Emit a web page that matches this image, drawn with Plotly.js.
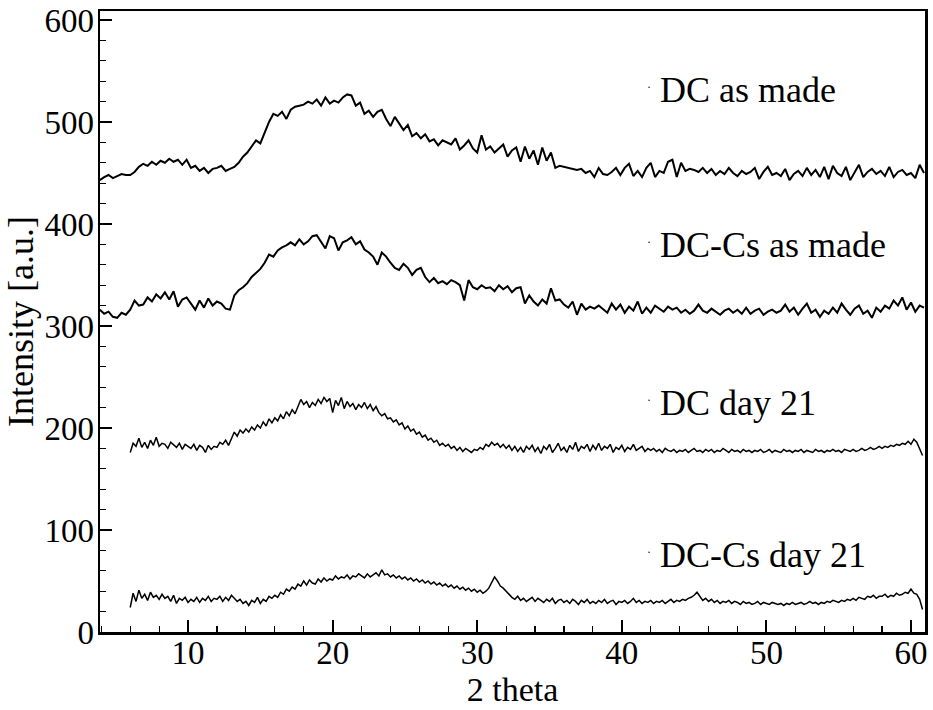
<!DOCTYPE html>
<html>
<head>
<meta charset="utf-8">
<script src="https://cdn.plot.ly/plotly-3.0.1.min.js"></script>
<style>html,body{margin:0;padding:0;background:#fff;}#chart{width:933px;height:710px;}</style>
</head>
<body>
<div id="chart"></div>
<script>
// 2-theta scan grids (start, step) for each pattern
const scanAsMade = {start: 3.9, step: 0.3};
const scanDay21 = {start: 6.0, step: 0.2};

const labels = ["DC as made", "DC-Cs as made", "DC day 21", "DC-Cs day 21"];
const labelY = [531, 379, 224.5, 75.5];
const labelX = 42.5;

const dcAsMade = [
443,446,448,445,447,449,448,448,451,456,
459,457,461,458,462,460,464,461,463,458,
463,455,457,452,455,450,454,455,457,452,
454,456,460,466,470,476,482,479,490,500,
508,506,510,503,512,515,516,517,520,518,
522,516,524,518,521,519,524,527,526,516,
519,508,511,505,510,512,503,496,505,498,
492,497,486,489,484,488,481,483,477,482,
480,478,484,473,477,482,474,470,487,473,
476,470,474,478,466,472,475,461,476,464,
472,458,475,462,470,455,457,456,455,454,
453,454,450,452,446,455,449,448,451,455,
448,455,459,447,452,446,455,460,446,452,
450,461,463,446,460,452,454,453,451,455,
450,454,448,452,449,455,450,447,452,449,
451,455,444,451,456,448,450,447,454,443,
449,452,447,455,448,453,446,456,444,457,
450,447,456,443,451,458,446,451,454,449,
452,447,456,446,451,453,448,450,445,458,
450];

const dcCsAsMade = [
316,312,314,309,308,313,311,316,325,320,
321,328,324,331,327,333,326,334,319,326,
328,322,316,325,318,327,320,324,322,317,
316,330,335,338,342,348,352,356,362,370,
368,374,377,379,382,379,385,380,383,388,
389,383,376,388,386,374,382,384,387,380,
383,375,372,368,360,372,368,362,357,355,
361,357,350,355,357,348,343,347,342,344,
341,345,343,340,325,345,338,336,340,337,
338,334,340,336,339,333,337,338,322,330,
324,320,326,322,337,325,326,321,318,324,
311,322,316,319,317,320,316,313,322,316,
321,313,319,315,324,312,318,313,320,317,
314,319,316,318,313,316,312,315,321,315,
313,317,314,311,315,317,313,316,312,318,
312,315,317,311,314,316,313,315,321,314,
318,311,317,322,313,316,309,315,312,318,
313,322,316,311,317,320,312,315,308,318,
314,320,317,325,320,328,316,323,314,320,
318];

const dcDay21 = [
176,185,182,190,181,186,180,188,183,191,
182,185,184,180,186,183,181,185,179,184,
182,180,184,178,183,181,176,183,179,182,
181,186,184,188,183,190,196,192,198,195,
199,196,201,198,203,200,206,202,209,205,
210,207,213,209,216,212,218,214,221,228,
223,226,220,225,222,228,224,230,226,229,
215,227,222,230,219,226,221,224,218,223,
220,225,219,223,217,221,215,212,214,209,
210,206,208,203,205,199,202,197,199,194,
196,191,193,188,190,186,188,183,185,182,
184,180,182,178,181,177,180,178,176,179,
178,181,179,184,182,186,183,185,181,184,
180,183,178,182,177,181,176,182,179,183,
177,181,175,182,179,184,176,180,185,178,
181,176,183,179,186,177,182,180,184,177,
183,179,185,178,182,180,184,176,181,179,
183,177,181,179,184,178,180,182,177,180,
178,180,177,179,176,180,178,177,179,176,
178,177,179,176,178,180,177,178,176,179,
177,179,176,178,177,180,178,176,179,177,
178,176,179,177,178,176,178,177,179,176,
177,179,176,178,177,176,179,177,178,176,
178,177,179,176,178,177,176,179,177,178,
176,178,177,179,177,178,176,179,178,177,
179,177,178,180,178,179,181,179,180,182,
180,182,181,183,182,184,183,185,184,187,
184,189,186,180,173];

const dcCsDay21 = [
24,38,30,41,33,37,31,39,34,36,
32,37,33,35,30,36,28,33,31,34,
29,32,30,34,29,33,31,35,30,33,
32,35,30,34,31,36,33,30,32,28,
30,26,31,29,34,28,32,30,35,33,
36,34,39,37,42,40,44,42,47,45,
50,46,51,48,47,52,49,53,50,52,
51,55,52,54,53,56,52,55,54,57,
55,53,57,54,56,58,55,61,56,57,
54,56,53,55,52,54,51,53,50,52,
49,51,48,50,47,49,46,48,45,47,
44,46,43,45,42,44,41,43,40,42,
39,41,38,40,43,48,54,50,45,43,
40,36,34,32,35,31,33,30,32,34,
30,33,31,29,32,30,33,28,31,32,
29,31,28,32,30,27,31,29,32,28,
30,28,31,29,32,28,30,31,27,30,
29,31,28,30,33,29,31,28,30,29,
31,28,30,29,31,28,30,32,29,31,
30,32,31,33,34,36,39,35,31,33,
30,32,29,31,28,30,29,31,28,30,
29,27,30,28,29,27,28,30,27,29,
28,27,29,28,27,28,26,28,27,29,
27,28,29,27,28,30,28,29,27,29,
28,30,29,31,30,29,31,30,32,31,
33,31,34,33,32,35,34,36,33,35,
35,37,34,36,35,38,36,37,39,38,
42,38,37,32,22];

function grid(scan, n) {
  const xs = [];
  for (let i = 0; i < n; i++) xs.push(+(scan.start + i * scan.step).toFixed(2));
  return xs;
}

const FONT = "'Liberation Serif', 'Times New Roman', Times, serif";

const traces = [
  {x: grid(scanAsMade, dcAsMade.length), y: dcAsMade, name: labels[0], line: {color: "#000", width: 2}},
  {x: grid(scanAsMade, dcCsAsMade.length), y: dcCsAsMade, name: labels[1], line: {color: "#000", width: 2}},
  {x: grid(scanDay21, dcDay21.length), y: dcDay21, name: labels[2], line: {color: "#000", width: 1.5}},
  {x: grid(scanDay21, dcCsDay21.length), y: dcCsDay21, name: labels[3], line: {color: "#000", width: 1.5}}
].map(t => Object.assign({type: "scatter", mode: "lines", hoverinfo: "skip"}, t));

const annotations = [];
labels.forEach((txt, i) => {
  annotations.push({x: labelX, y: labelY[i], xref: "x", yref: "y", text: txt, showarrow: false,
    xanchor: "left", yanchor: "middle", font: {family: FONT, size: 36, color: "#000"}});
  annotations.push({x: labelX - 0.65, y: labelY[i] + 3, xref: "x", yref: "y", text: "·", showarrow: false,
    xanchor: "center", yanchor: "middle", font: {family: FONT, size: 12, color: "#000"}});
});

const layout = {
  width: 933, height: 710,
  margin: {l: 100, r: 8, t: 11, b: 78, pad: 0},
  paper_bgcolor: "#fff", plot_bgcolor: "#fff",
  showlegend: false,
  font: {family: FONT, color: "#000", size: 32},
  xaxis: {
    range: [3.91, 60.97], showgrid: false, zeroline: false,
    showline: true, linecolor: "#000", linewidth: 2.5, mirror: true,
    ticks: "inside", ticklen: 12, tickwidth: 2, tickcolor: "#000",
    tick0: 0, dtick: 10, ticklabelstandoff: -10,
    minor: {ticks: "inside", ticklen: 6, tickwidth: 1.2, tickcolor: "#000", dtick: 2, tick0: 0, showgrid: false},
    tickfont: {family: FONT, size: 33, color: "#000"},
    title: {text: "2 theta", font: {family: FONT, size: 34, color: "#000"}, standoff: 2},
    automargin: false
  },
  yaxis: {
    range: [0, 608.8], showgrid: false, zeroline: false,
    showline: true, linecolor: "#000", linewidth: 2.5, mirror: true,
    ticks: "inside", ticklen: 12, tickwidth: 2, tickcolor: "#000",
    tick0: 0, dtick: 100, ticklabelstandoff: -3,
    minor: {ticks: "inside", ticklen: 6, tickwidth: 1.2, tickcolor: "#000", dtick: 20, tick0: 0, showgrid: false},
    tickfont: {family: FONT, size: 33, color: "#000"},
    title: {text: "Intensity [a.u.]", font: {family: FONT, size: 36, color: "#000"}, standoff: 0},
    automargin: false
  },
  annotations: annotations
};

Plotly.newPlot("chart", traces, layout, {staticPlot: true, displayModeBar: false});
</script>
</body>
</html>
